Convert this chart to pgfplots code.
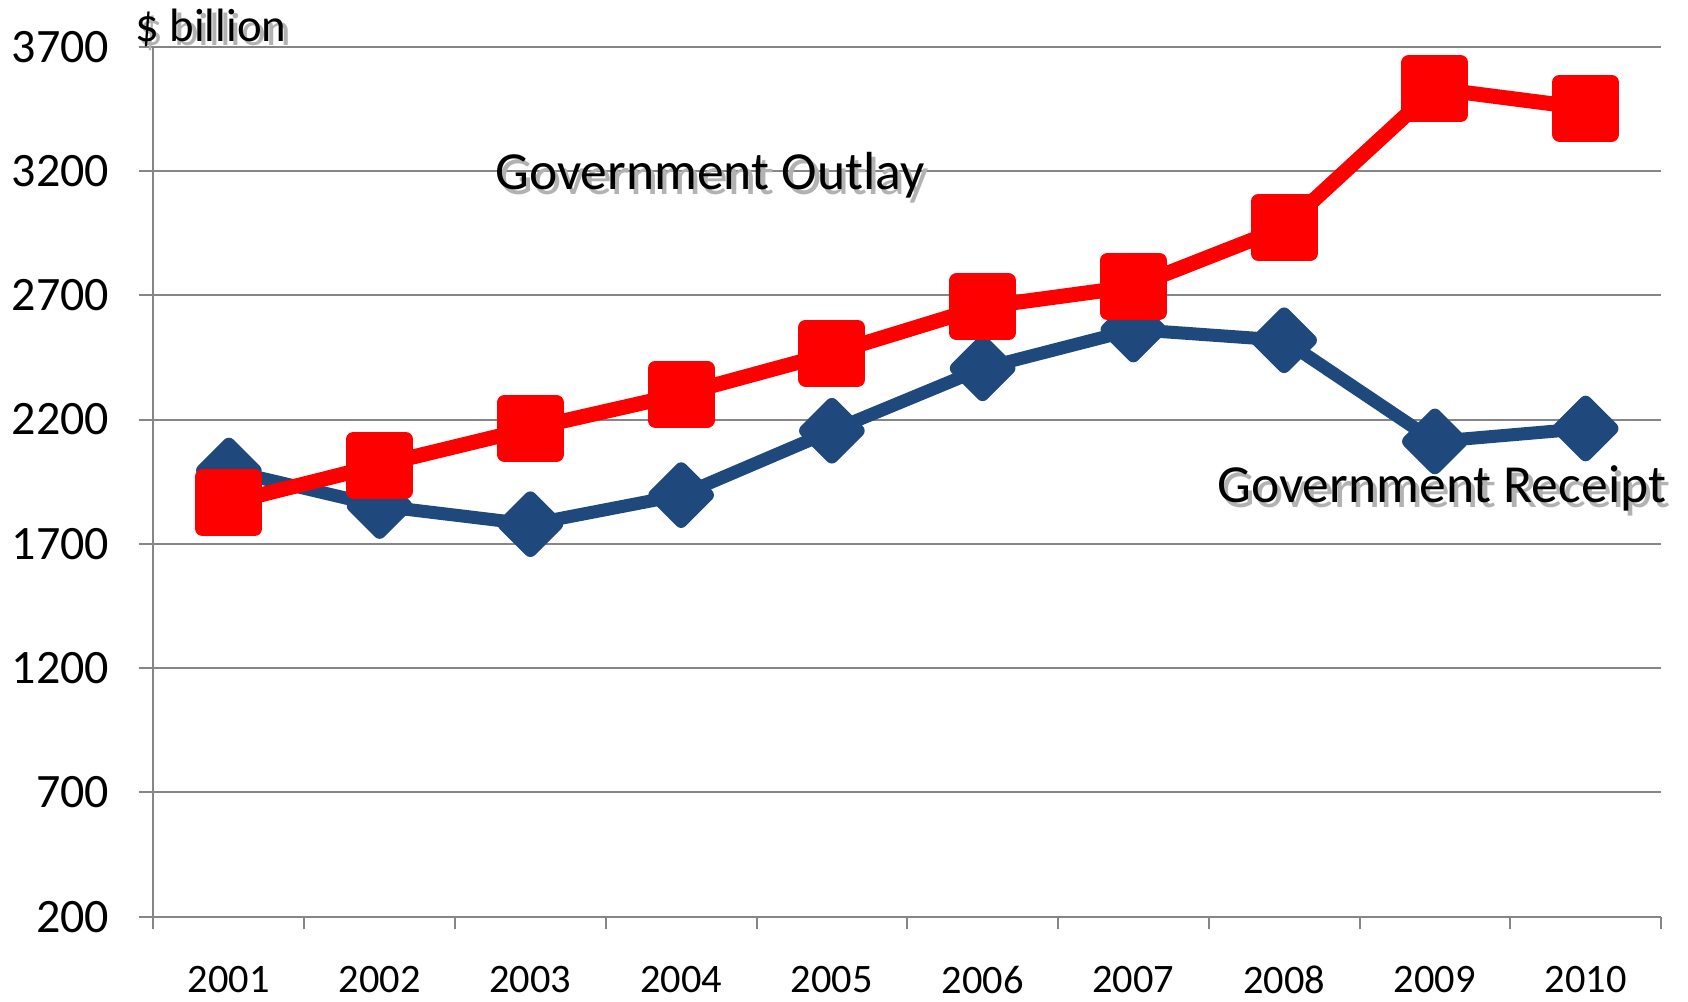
\documentclass[border=0pt]{standalone}
\usepackage{pgfplots}
\pgfplotsset{compat=1.18}
\usepackage{fontspec}
\setmainfont{Carlito}
\definecolor{recblue}{RGB}{31,73,125}
\definecolor{outred}{RGB}{255,0,0}
\definecolor{gridgray}{RGB}{134,134,134}
\pgfplotstableread{
x outlay receipt
1 1865 1995
2 2017 1852
3 2164 1779
4 2302 1896
5 2467 2155
6 2653 2406
7 2735 2562
8 2973 2519
9 3531 2112
10 3453 2164
}\datatable
\newcommand{\shtext}[3]{%
  \node[anchor=#1, inner sep=0pt, text=black!30, xshift=2.2bp, yshift=-2.2bp] at (#2) {#3};
  \node[anchor=#1, inner sep=0pt, text=black] at (#2) {#3};
}
\begin{document}
\begin{tikzpicture}
\begin{axis}[
  at={(0,0)}, anchor=south west,
  scale only axis, width=753.75bp, height=435bp,
  xmin=0.5, xmax=10.5, ymin=200, ymax=3700,
  ytick={200,700,...,3700},
  xtick={1,...,10},
  xticklabels={2001,2002,2003,2004,2005,2006,2007,2008,2009,2010},
  minor xtick={0.5,1.5,...,10.5},
  major x tick style={draw=none},
  axis x line*=bottom, axis y line*=left,
  axis line style={gridgray, line width=1bp, -},
  ymajorgrids, major grid style={gridgray, line width=1bp},
  tick align=outside,
  major tick length=7.5bp, minor tick length=6.3bp,
  tick style={gridgray, line width=1bp},
  /pgf/number format/assume math mode=true,
  /pgf/number format/1000 sep={},
  yticklabel style={anchor=east, inner sep=0pt, xshift=-14.5bp, font=\fontsize{24bp}{28bp}\selectfont},
  xticklabel style={anchor=north, inner sep=0pt, yshift=-17bp, font=\fontsize{20.2bp}{24bp}\selectfont},
  clip=false,
]
\addplot[recblue, line width=6.5bp, line join=round, mark=square*, mark size=9.3bp, mark options={rotate=45, solid, draw=none, fill=recblue}] table[x=x, y=receipt] {\datatable};
\addplot[outred, line width=7.5bp, line join=round, mark=square*, mark size=13bp, mark options={solid, draw=none, fill=outred}] table[x=x, y=outlay] {\datatable};
\shtext{base west}{axis cs:2.765,3125}{\fontsize{26.8bp}{30bp}\selectfont Government Outlay}
\shtext{base west}{axis cs:7.555,1865}{\fontsize{26.8bp}{30bp}\selectfont Government Receipt}
\shtext{base west}{axis cs:0.377,3722}{\fontsize{23.4bp}{28bp}\selectfont \$ billion}
\end{axis}
\pgfresetboundingbox
\path[use as bounding box] (-76.75bp,-42.5bp) rectangle (767.25bp,458.35bp);
\end{tikzpicture}
\end{document}
